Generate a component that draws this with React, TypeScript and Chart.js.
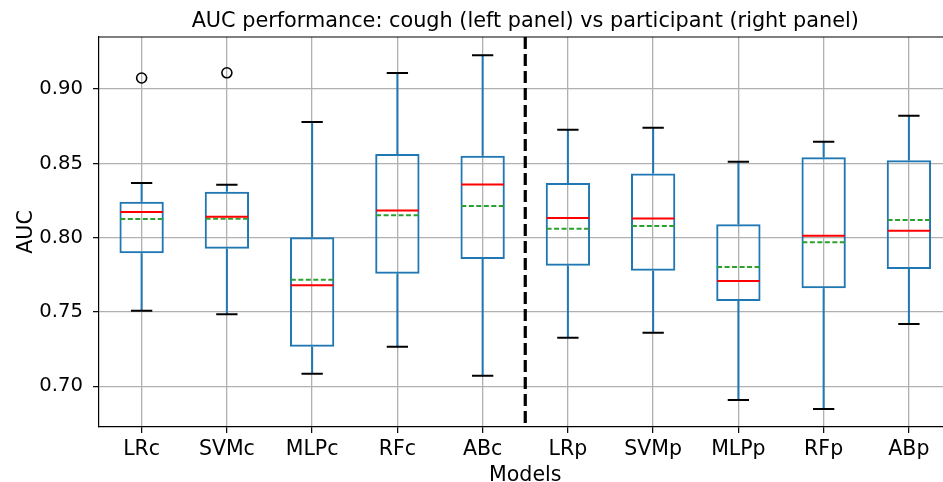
import React, { useEffect, useRef } from 'react';
import { Chart, registerables } from 'chart.js';

Chart.register(...registerables);

// ---------- data ----------
const categories = ['LRc', 'SVMc', 'MLPc', 'RFc', 'ABc', 'LRp', 'SVMp', 'MLPp', 'RFp', 'ABp'];
const lowerWhisker = [0.7509, 0.7485, 0.7085, 0.7266, 0.7071, 0.7327, 0.7361, 0.6908, 0.6847, 0.7419];
const q1 = [0.7895, 0.7926, 0.7266, 0.7758, 0.7857, 0.7812, 0.7778, 0.7574, 0.766, 0.7789];
const medians = [0.8173, 0.8141, 0.768, 0.8184, 0.8359, 0.8133, 0.813, 0.7709, 0.8013, 0.8047];
const means = [0.8126, 0.8128, 0.7717, 0.8151, 0.8213, 0.8061, 0.8079, 0.7803, 0.7969, 0.8119];
const q3 = [0.8242, 0.831, 0.8003, 0.8563, 0.8552, 0.8368, 0.8433, 0.809, 0.8541, 0.8521];
const upperWhisker = [0.8368, 0.8357, 0.8779, 0.9108, 0.9229, 0.8727, 0.874, 0.8511, 0.8646, 0.8821];
const outliers: number[][] = [[0.9075], [0.911], [], [], [], [], [], [], [], []];
const yTicks = [0.7, 0.75, 0.8, 0.85, 0.9];
const yMin = 0.6726;
const yMax = 0.9351;
const separatorAt = 5.5;

const TITLE = 'AUC performance: cough (left panel) vs participant (right panel)';
const X_LABEL = 'Models';
const Y_LABEL = 'AUC';

const FONT = '"DejaVu Sans", sans-serif';
const TITLE_SIZE = 20.8;
const XTICK_SIZE = 20.5;
const YTICK_SIZE = 19.6;
const LABEL_SIZE = 20.6;

const BLUE = '#1f77b4';
const GREEN = '#2ca02c';
const RED = '#ff0000';

type P = { x: number; y: number | null };

function segments(halfWidth: number, vals: number[]): P[] {
  const out: P[] = [];
  vals.forEach((v, i) => {
    const c = i + 1;
    out.push({ x: c - halfWidth, y: v }, { x: c + halfWidth, y: v }, { x: c, y: null });
  });
  return out;
}

function whiskers(): P[] {
  const out: P[] = [];
  categories.forEach((_, i) => {
    const c = i + 1;
    out.push({ x: c, y: q3[i] }, { x: c, y: upperWhisker[i] }, { x: c, y: null });
    out.push({ x: c, y: q1[i] }, { x: c, y: lowerWhisker[i] }, { x: c, y: null });
  });
  return out;
}

const textPlugin = {
  id: 'textPlugin',
  afterDraw(chart: any) {
    const { ctx, chartArea, scales } = chart;
    ctx.save();
    // top spine
    ctx.strokeStyle = '#000';
    ctx.lineWidth = 1.2;
    ctx.beginPath();
    ctx.moveTo(chartArea.left, chartArea.top);
    ctx.lineTo(chartArea.right, chartArea.top);
    ctx.stroke();

    const cx = scales.x.getPixelForValue(separatorAt);
    ctx.fillStyle = '#000';
    ctx.textAlign = 'center';
    ctx.textBaseline = 'alphabetic';
    ctx.font = `${TITLE_SIZE}px ${FONT}`;
    ctx.fillText(TITLE, cx, 27);

    ctx.font = `${LABEL_SIZE}px ${FONT}`;
    ctx.fillText(X_LABEL, cx, 480.5);

    ctx.translate(31.5, (chartArea.top + chartArea.bottom) / 2);
    ctx.rotate(-Math.PI / 2);
    ctx.fillText(Y_LABEL, 0, 0);
    ctx.restore();
  },
};

export default function App() {
  const ref = useRef<HTMLCanvasElement>(null);

  useEffect(() => {
    if (!ref.current) return;
    const lineBase = {
      type: 'line' as const,
      showLine: true,
      spanGaps: false,
      pointRadius: 0,
      pointHoverRadius: 0,
      fill: false,
      tension: 0,
    };
    const outlierPts: P[] = [];
    outliers.forEach((arr, i) => arr.forEach((v) => outlierPts.push({ x: i + 1, y: v })));

    const chart = new Chart(ref.current, {
      type: 'bar',
      data: {
        datasets: [
          {
            ...lineBase,
            label: 'separator',
            data: [
              { x: separatorAt, y: yMax },
              { x: separatorAt, y: yMin },
            ],
            borderColor: '#000',
            borderWidth: 3.2,
            borderDash: [12, 5],
            order: 0,
          } as any,
          {
            ...lineBase,
            label: 'medians',
            data: segments(0.25, medians),
            borderColor: RED,
            borderWidth: 2,
            order: 1,
          } as any,
          {
            ...lineBase,
            label: 'means',
            data: segments(0.25, means),
            borderColor: GREEN,
            borderWidth: 2,
            borderDash: [5, 2.5],
            order: 2,
          } as any,
          {
            ...lineBase,
            label: 'capsHigh',
            data: segments(0.125, upperWhisker),
            borderColor: '#000',
            borderWidth: 2,
            order: 3,
          } as any,
          {
            ...lineBase,
            label: 'capsLow',
            data: segments(0.125, lowerWhisker),
            borderColor: '#000',
            borderWidth: 2,
            order: 3,
          } as any,
          {
            type: 'scatter',
            label: 'outliers',
            data: outlierPts,
            showLine: false,
            pointRadius: 5,
            pointBorderWidth: 1.6,
            pointBorderColor: '#000',
            pointBackgroundColor: 'rgba(0,0,0,0)',
            order: 4,
          } as any,
          {
            type: 'bar',
            label: 'boxes',
            data: categories.map((_, i) => ({ x: i + 1, y: [q1[i], q3[i]] })),
            backgroundColor: 'rgba(0,0,0,0)',
            borderColor: BLUE,
            borderWidth: 2,
            borderSkipped: false,
            barPercentage: 0.52,
            categoryPercentage: 1,
            order: 5,
          } as any,
          {
            ...lineBase,
            label: 'whiskers',
            data: whiskers(),
            borderColor: BLUE,
            borderWidth: 2,
            order: 6,
          } as any,
        ],
      },
      options: {
        animation: false,
        responsive: false,
        maintainAspectRatio: false,
        events: [],
        layout: { autoPadding: false, padding: { top: 37, left: 0, right: 0, bottom: 0 } },
        plugins: {
          legend: { display: false },
          tooltip: { enabled: false },
          title: { display: false },
        },
        scales: {
          x: {
            type: 'linear',
            min: 0.5,
            max: 10.4,
            offset: false,
            grid: {
              offset: false,
              color: '#b0b0b0',
              lineWidth: 1.3,
              drawTicks: true,
              tickLength: 6,
              tickColor: '#000',
              tickWidth: 1.2,
            },
            border: { display: true, color: '#000', width: 1.2 },
            afterBuildTicks: (scale: any) => {
              scale.ticks = categories.map((_, i) => ({ value: i + 1 }));
            },
            afterFit: (scale: any) => {
              scale.height = 55;
              scale.paddingLeft = 0;
              scale.paddingRight = 0;
            },
            ticks: {
              autoSkip: false,
              maxRotation: 0,
              minRotation: 0,
              padding: 4,
              color: '#000',
              font: { family: FONT, size: XTICK_SIZE },
              callback: (v: any) => categories[Math.round(Number(v)) - 1] ?? '',
            },
          },
          y: {
            type: 'linear',
            min: yMin,
            max: yMax,
            grid: {
              color: '#b0b0b0',
              lineWidth: 1.3,
              drawTicks: true,
              tickLength: 6,
              tickColor: '#000',
              tickWidth: 1.2,
            },
            border: { display: true, color: '#000', width: 1.2 },
            afterBuildTicks: (scale: any) => {
              scale.ticks = yTicks.map((v) => ({ value: v }));
            },
            afterFit: (scale: any) => {
              scale.width = 99;
              scale.paddingTop = 0;
              scale.paddingBottom = 0;
            },
            ticks: {
              padding: 10,
              color: '#000',
              font: { family: FONT, size: YTICK_SIZE },
              callback: (v: any) => Number(v).toFixed(2),
            },
          },
        },
      },
      plugins: [textPlugin],
    } as any);

    return () => chart.destroy();
  }, []);

  return (
    <div style={{ position: 'absolute', left: 0, top: 0, width: 943, height: 482, background: '#fff' }}>
      <canvas ref={ref} width={943} height={482} style={{ display: 'block' }} />
    </div>
  );
}
